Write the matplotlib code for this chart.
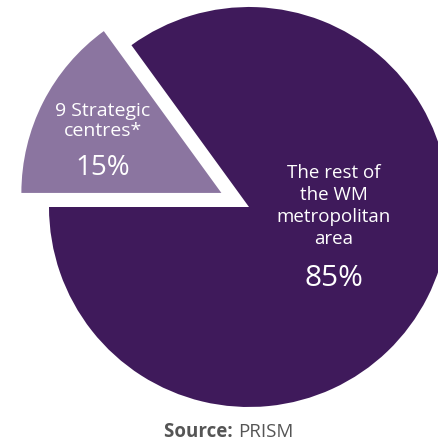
import matplotlib
matplotlib.use("Agg")
import matplotlib.pyplot as plt

labels = ["9 Strategic\ncentres*", "The rest of\nthe WM\nmetropolitan\narea"]
values = [15, 85]
pct_labels = ["15%", "85%"]
colors = ["#8b75a0", "#3f1a5b"]

W, H = 438, 442
fig = plt.figure(figsize=(W / 100, H / 100), dpi=100)
ax = fig.add_axes([0, 0, 1, 1])
cx, cy = 249, H - 207
R = 200
ax.pie(values, colors=colors, startangle=126, counterclock=True,
       explode=[0.155 * R, 0], radius=R, center=(cx, cy),
       wedgeprops=dict(linewidth=0))
ax.set_xlim(0, W)
ax.set_ylim(0, H)
ax.set_aspect("equal")
ax.axis("off")

fam = ["Open Sans", "DejaVu Sans"]
ax.text(103, H - 121, labels[0], color="white", fontsize=14, ha="center",
        va="center", family=fam, linespacing=1.2)
ax.text(103, H - 168, pct_labels[0], color="white", fontsize=20, ha="center",
        va="center", family=fam)
ax.text(334, H - 206, labels[1], color="white", fontsize=13.5, ha="center",
        va="center", family=fam, linespacing=1.3)
ax.text(334, H - 278, pct_labels[1], color="white", fontsize=21.5, ha="center",
        va="center", family=fam)

ax.text(238, H - 432, "Source: ", color="#555555", fontsize=13.5,
        ha="right", va="center", family=fam, fontweight="bold")
ax.text(238, H - 432, "PRISM", color="#555555", fontsize=13.5,
        ha="left", va="center", family=fam)

fig.savefig("out.png", dpi=100)
